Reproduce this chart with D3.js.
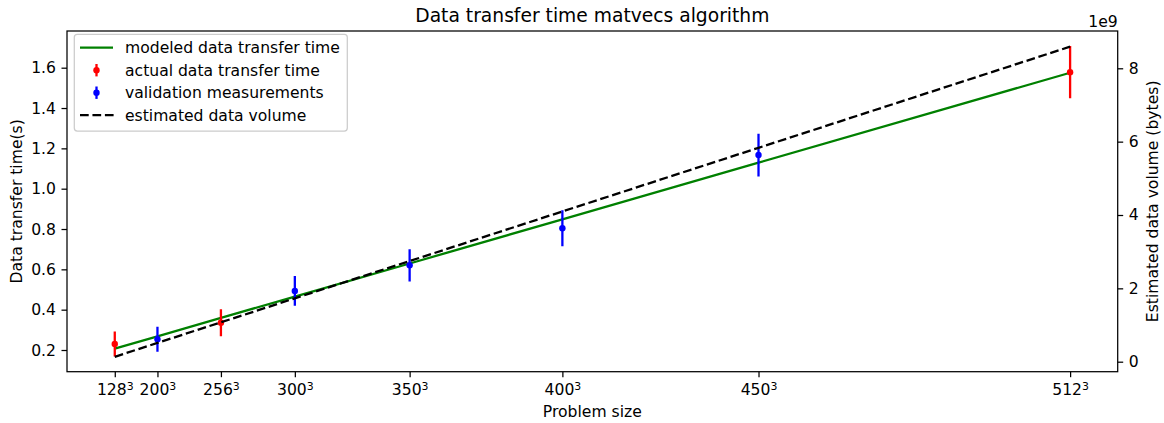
<!DOCTYPE html>
<html>
<head>
<meta charset="utf-8">
<script src="https://cdn.jsdelivr.net/npm/d3@7"></script>
<style>
  html, body { margin: 0; padding: 0; background: #fff; }
  svg { display: block; font-family: "DejaVu Sans", sans-serif; }
</style>
</head>
<body>
<svg id="chart" width="1164" height="423"></svg>
<script>
// ---- data ----
const sizes = [128, 200, 256, 300, 350, 400, 450, 512];
const tickBase = ["128", "200", "256", "300", "350", "400", "450", "512"];
const modeledTime = [0.207, 0.268, 0.359, 0.465, 0.629, 0.848, 1.129, 1.575];
const dataVolume = [0.134e9, 0.512e9, 1.074e9, 1.728e9, 2.744e9, 4.096e9, 5.832e9, 8.59e9];

const actualSizes = [128, 256, 512];
const actualTime = [0.230, 0.335, 1.578];
const actualErr = [0.062, 0.067, 0.129];

const validSizes = [200, 300, 350, 400, 450];
const validTime = [0.253, 0.493, 0.620, 0.804, 1.167];
const validErr = [0.062, 0.074, 0.080, 0.089, 0.106];

const leftTicks = [0.2, 0.4, 0.6, 0.8, 1.0, 1.2, 1.4, 1.6];
const rightTicks = [0, 2e9, 4e9, 6e9, 8e9];

const legendLabels = ["modeled data transfer time", "actual data transfer time", "validation measurements", "estimated data volume"];

// ---- layout ----
const L = 67, R = 1117.7, T = 31, B = 371.7;
const FS = 15.6;
const svg = d3.select("#chart");

const x = d3.scaleLinear().domain([-4.51e6, 140.8e6]).range([L, R]);
const yL = d3.scaleLinear().domain([0.0924, 1.782]).range([B, T]);
const yR = d3.scaleLinear().domain([-0.2727e9, 9.017e9]).range([B, T]);

const cube = n => n * n * n;

// clip
svg.append("defs").append("clipPath").attr("id", "clip")
  .append("rect").attr("x", L).attr("y", T).attr("width", R - L).attr("height", B - T);

// ---- primary content ----
const plot = svg.append("g").attr("clip-path", "url(#clip)");

const lineL = d3.line().x((d, i) => x(cube(sizes[i]))).y(d => yL(d));
plot.append("path").datum(modeledTime)
  .attr("d", lineL).attr("fill", "none").attr("stroke", "green").attr("stroke-width", 2.3);

function drawErr(g, ns, vals, errs, color) {
  ns.forEach((n, i) => {
    const cx = x(cube(n));
    g.append("line").attr("x1", cx).attr("x2", cx)
      .attr("y1", yL(vals[i] - errs[i])).attr("y2", yL(vals[i] + errs[i]))
      .attr("stroke", color).attr("stroke-width", 2.3);
    g.append("circle").attr("cx", cx).attr("cy", yL(vals[i])).attr("r", 3.2).attr("fill", color);
  });
}
drawErr(plot, actualSizes, actualTime, actualErr, "red");
drawErr(plot, validSizes, validTime, validErr, "blue");

// ---- secondary content ----
const lineR = d3.line().x((d, i) => x(cube(sizes[i]))).y(d => yR(d));
plot.append("path").datum(dataVolume)
  .attr("d", lineR).attr("fill", "none").attr("stroke", "black")
  .attr("stroke-width", 2.3).attr("stroke-dasharray", "8.7,3.75");

// ---- axes ----
function styleAxis(g) {
  g.select(".domain").remove();
  g.selectAll(".tick line").attr("stroke", "black").attr("stroke-width", 1.25);
  g.selectAll(".tick text").attr("fill", "black").attr("font-size", FS)
    .attr("font-family", "DejaVu Sans");
}

const xAxis = svg.append("g").attr("transform", `translate(0,${B})`)
  .call(d3.axisBottom(x).tickValues(sizes.map(cube)).tickSize(5.5).tickPadding(5.5));
styleAxis(xAxis);
xAxis.selectAll(".tick text").each(function (d, i) {
  const t = d3.select(this);
  t.text(null).attr("dy", null).attr("y", 23.3);
  t.append("tspan").text(tickBase[i]);
  t.append("tspan").text("3").attr("font-size", 10.9).attr("dy", -5);
});

const yAxisL = svg.append("g").attr("transform", `translate(${L},0)`)
  .call(d3.axisLeft(yL).tickValues(leftTicks).tickFormat(d3.format(".1f")).tickSize(5.5).tickPadding(5.5));
styleAxis(yAxisL);

const yAxisR = svg.append("g").attr("transform", `translate(${R},0)`)
  .call(d3.axisRight(yR).tickValues(rightTicks).tickFormat(d => d3.format("d")(d / 1e9)).tickSize(5.5).tickPadding(5.5));
styleAxis(yAxisR);

// frame
svg.append("rect").attr("x", L).attr("y", T).attr("width", R - L).attr("height", B - T)
  .attr("fill", "none").attr("stroke", "black").attr("stroke-width", 1.25);

// texts
svg.append("text").attr("x", (L + R) / 2).attr("y", 21.6).attr("text-anchor", "middle")
  .attr("font-size", 18.7).text("Data transfer time matvecs algorithm");
svg.append("text").attr("x", (L + R) / 2).attr("y", 417).attr("text-anchor", "middle")
  .attr("font-size", FS).text("Problem size");
svg.append("text").attr("transform", `translate(22,${(T + B) / 2}) rotate(-90)`)
  .attr("text-anchor", "middle").attr("font-size", FS).text("Data transfer time(s)");
svg.append("text").attr("transform", `translate(1147,${(T + B) / 2}) rotate(-90)`)
  .attr("text-anchor", "middle").attr("dominant-baseline", "hanging").attr("font-size", FS)
  .text("Estimated data volume (bytes)");
svg.append("text").attr("x", R).attr("y", 26.5).attr("text-anchor", "end")
  .attr("font-size", FS).text("1e9");

// ---- legend ----
const lg = svg.append("g");
lg.append("rect").attr("x", 74.3).attr("y", 34.3).attr("width", 273).attr("height", 96.7)
  .attr("rx", 3).attr("fill", "white").attr("fill-opacity", 0.8)
  .attr("stroke", "#cccccc").attr("stroke-width", 1.25);
const rowY = [47.7, 70.2, 92.7, 115.2];
const hx1 = 80, hx2 = 113, hxm = 96.5, tx = 125;
lg.append("line").attr("x1", hx1).attr("x2", hx2).attr("y1", rowY[0]).attr("y2", rowY[0])
  .attr("stroke", "green").attr("stroke-width", 2.3);
[["red", rowY[1]], ["blue", rowY[2]]].forEach(([c, yy]) => {
  lg.append("line").attr("x1", hxm).attr("x2", hxm).attr("y1", yy - 6.2).attr("y2", yy + 6.2)
    .attr("stroke", c).attr("stroke-width", 2.3);
  lg.append("circle").attr("cx", hxm).attr("cy", yy).attr("r", 3.2).attr("fill", c);
});
lg.append("line").attr("x1", hx1).attr("x2", hx2 + 1).attr("y1", rowY[3]).attr("y2", rowY[3])
  .attr("stroke", "black").attr("stroke-width", 2.3).attr("stroke-dasharray", "8.7,3.75");
legendLabels.forEach((s, i) => {
  lg.append("text").attr("x", tx).attr("y", rowY[i] + 5.6).attr("font-size", FS).text(s);
});
</script>
</body>
</html>
